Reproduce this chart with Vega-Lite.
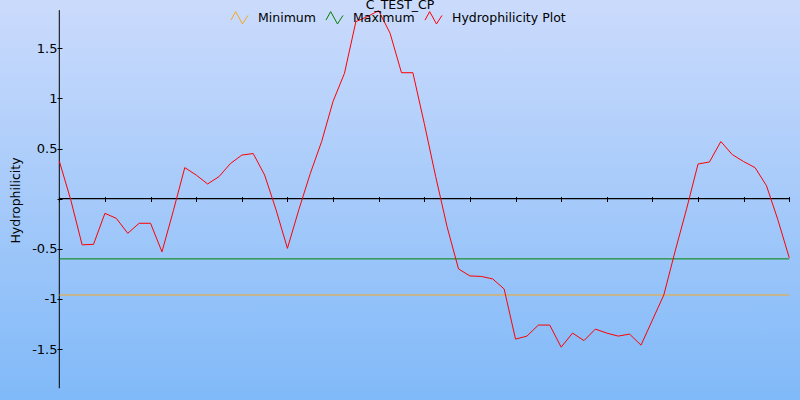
{
  "$schema": "https://vega.github.io/schema/vega-lite/v6.json",
  "width": 800,
  "height": 400,
  "padding": 0,
  "autosize": {"type": "none"},
  "title": {"text": "C_TEST_CP", "anchor": "middle", "frame": "group", "fontSize": 12.5, "font": "DejaVu Sans", "fontWeight": "normal", "color": "#000000", "offset": -21, "baseline": "alphabetic"},
  "config": {
    "view": {"fill": {"gradient": "linear", "x1": 0, "y1": 0, "x2": 0, "y2": 1, "stops": [{"offset": 0, "color": "#cbdbfc"}, {"offset": 1, "color": "#80b9f8"}]}, "stroke": null},
    "font": "DejaVu Sans",
    "legend": {"padding": 0, "title": null}
  },
  "datasets": {
    "hydro": [
      {"k": 0, "value": 0.375}, {"k": 1, "value": -0.01}, {"k": 2, "value": -0.46}, {"k": 3, "value": -0.455},
      {"k": 4, "value": -0.146}, {"k": 5, "value": -0.196}, {"k": 6, "value": -0.345}, {"k": 7, "value": -0.245},
      {"k": 8, "value": -0.245}, {"k": 9, "value": -0.53}, {"k": 10, "value": -0.12}, {"k": 11, "value": 0.31},
      {"k": 12, "value": 0.236}, {"k": 13, "value": 0.147}, {"k": 14, "value": 0.22}, {"k": 15, "value": 0.35},
      {"k": 16, "value": 0.435}, {"k": 17, "value": 0.45}, {"k": 18, "value": 0.236}, {"k": 19, "value": -0.11},
      {"k": 20, "value": -0.495}, {"k": 21, "value": -0.11}, {"k": 22, "value": 0.25}, {"k": 23, "value": 0.57},
      {"k": 24, "value": 0.97}, {"k": 25, "value": 1.25}, {"k": 26, "value": 1.765}, {"k": 27, "value": 1.815},
      {"k": 28, "value": 1.875}, {"k": 29, "value": 1.65}, {"k": 30, "value": 1.256}, {"k": 31, "value": 1.256},
      {"k": 32, "value": 0.75}, {"k": 33, "value": 0.22}, {"k": 34, "value": -0.28}, {"k": 35, "value": -0.70},
      {"k": 36, "value": -0.77}, {"k": 37, "value": -0.775}, {"k": 38, "value": -0.80}, {"k": 39, "value": -0.90},
      {"k": 40, "value": -1.40}, {"k": 41, "value": -1.37}, {"k": 42, "value": -1.26}, {"k": 43, "value": -1.26},
      {"k": 44, "value": -1.48}, {"k": 45, "value": -1.34}, {"k": 46, "value": -1.415}, {"k": 47, "value": -1.30},
      {"k": 48, "value": -1.34}, {"k": 49, "value": -1.37}, {"k": 50, "value": -1.35}, {"k": 51, "value": -1.46},
      {"k": 52, "value": -1.21}, {"k": 53, "value": -0.96}, {"k": 54, "value": -0.52}, {"k": 55, "value": -0.10},
      {"k": 56, "value": 0.346}, {"k": 57, "value": 0.366}, {"k": 58, "value": 0.57}, {"k": 59, "value": 0.44},
      {"k": 60, "value": 0.37}, {"k": 61, "value": 0.31}, {"k": 62, "value": 0.13}, {"k": 63, "value": -0.21},
      {"k": 64, "value": -0.59}
    ],
    "limits": [
      {"series": "Minimum", "value": -0.96},
      {"series": "Maximum", "value": -0.6}
    ],
    "one": [{"id": 1}]
  },
  "layer": [
    {
      "data": {"name": "one"},
      "mark": {"type": "rule", "color": "#000000", "strokeWidth": 1},
      "encoding": {
        "x": {"datum": 0, "type": "quantitative", "scale": {"domain": [-5.2, 64.94], "nice": false, "zero": false}},
        "y": {"datum": 1.88, "type": "quantitative", "scale": {"domain": [-2.007, 1.981], "nice": false, "zero": false}},
        "y2": {"datum": -1.89}
      }
    },
    {
      "data": {"name": "one"},
      "mark": {"type": "rule", "color": "#000000", "strokeWidth": 1.2},
      "encoding": {
        "x": {"datum": 0, "type": "quantitative", "scale": {"domain": [-5.2, 64.94], "nice": false, "zero": false}},
        "x2": {"datum": 64},
        "y": {"datum": 0, "type": "quantitative", "scale": {"domain": [-2.007, 1.981], "nice": false, "zero": false}}
      }
    },
    {
      "data": {"name": "limits"},
      "mark": {"type": "rule", "strokeWidth": 1},
      "encoding": {
        "x": {"datum": 0, "type": "quantitative", "scale": {"domain": [-5.2, 64.94], "nice": false, "zero": false}},
        "x2": {"datum": 64},
        "y": {"field": "value", "type": "quantitative", "scale": {"domain": [-2.007, 1.981], "nice": false, "zero": false}},
        "color": {"field": "series", "type": "nominal", "legend": {"title": null}}
      }
    },
    {
      "data": {"name": "hydro"},
      "mark": {"type": "line", "strokeWidth": 1, "interpolate": "linear"},
      "encoding": {
        "x": {
          "field": "k", "type": "quantitative",
          "scale": {"domain": [-5.2, 64.94], "nice": false, "zero": false},
          "axis": {
            "title": null, "labels": false, "domain": false, "grid": false,
            "values": [0,1,2,3,4,5,6,7,8,9,10,11,12,13,14,15,16,17,18,19,20,21,22,23,24,25,26,27,28,29,30,31,32,33,34,35,36,37,38,39,40,41,42,43,44,45,46,47,48,49,50,51,52,53,54,55,56,57,58,59,60,61,62,63,64],
            "tickSize": 5, "tickColor": "#000000", "tickWidth": 1, "offset": -203.5
          }
        },
        "y": {
          "field": "value", "type": "quantitative",
          "scale": {"domain": [-2.007, 1.981], "nice": false, "zero": false},
          "axis": {
            "title": "Hydrophilicity", "titleFontSize": 12.5, "titleFontWeight": "normal", "titleColor": "#000000",
            "titleX": -47, "titleBaseline": "middle",
            "values": [-1.5, -1, -0.5, 0, 0.5, 1, 1.5],
            "labelExpr": "datum.value == 0 ? '' : '' + datum.value",
            "domain": false, "grid": false, "tickSize": 5, "tickColor": "#000000", "tickWidth": 1,
            "labelColor": "#000000", "labelFontSize": 13, "labelPadding": 0, "offset": -62
          }
        },
        "color": {
          "datum": "Hydrophilicity Plot", "type": "nominal",
          "scale": {"domain": ["Minimum", "Maximum", "Hydrophilicity Plot"], "range": ["#f5a623", "#008000", "#ff0000"]},
          "legend": {
            "title": null, "orient": "none", "legendX": 230, "legendY": 8, "direction": "horizontal",
            "symbolType": "M -1 0.3 L -0.45 -0.7 L 0.35 0.75 L 1 -0.25",
            "symbolSize": 290, "symbolStrokeWidth": 1, "symbolFillColor": "transparent",
            "labelFontSize": 12.5, "labelColor": "#000000", "labelOffset": 9, "columnPadding": 7
          }
        }
      }
    }
  ]
}
